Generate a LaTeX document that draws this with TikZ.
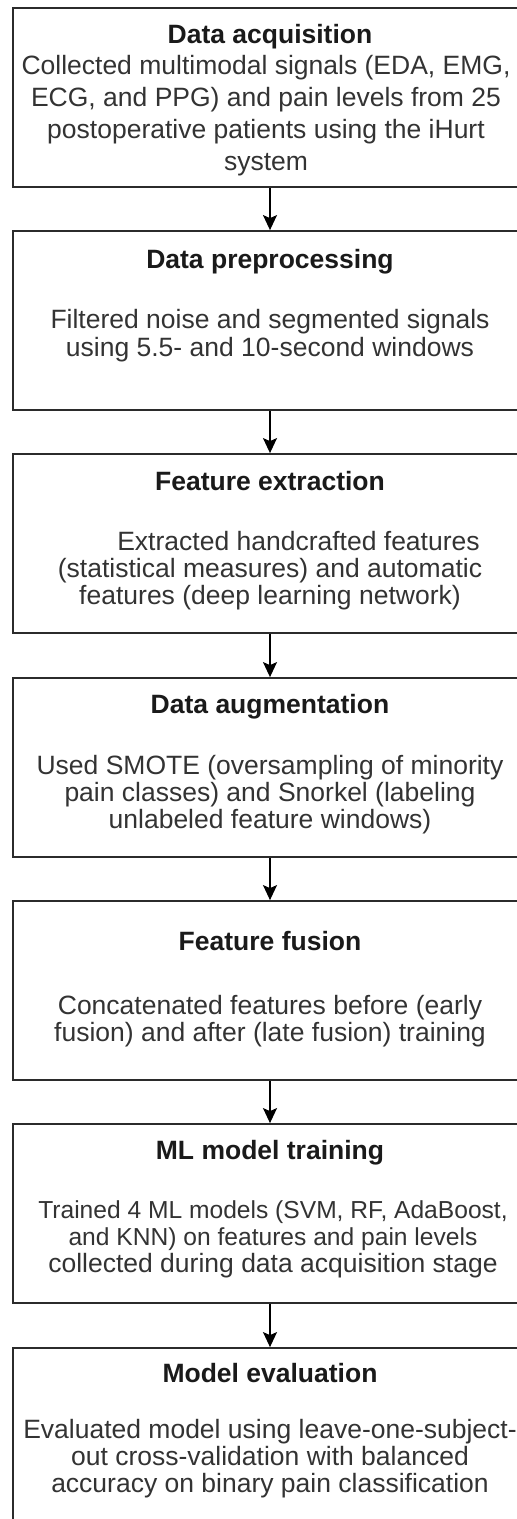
\documentclass[tikz,border=0pt]{standalone}
\usepackage{fontspec}
\setmainfont{Liberation Sans}
\usetikzlibrary{arrows.meta}
\definecolor{edge}{HTML}{2B2B2B}
\definecolor{bodytext}{HTML}{333333}
\definecolor{titletext}{HTML}{1A1A1A}
\newcommand{\stagefontsmall}{\fontsize{24.6pt}{27pt}\selectfont}
\newcommand{\stagefontnormal}{\fontsize{26.5pt}{27pt}\selectfont}
\tikzset{
  stagebox/.style={draw=edge, line width=1.8pt, minimum width=514pt, minimum height=179pt, inner sep=0pt},
  stagetitle/.style={anchor=base, inner sep=0pt, font=\fontsize{26.5pt}{27pt}\selectfont\bfseries, text=titletext},
  stagebody/.style={anchor=base, inner sep=0pt, align=center, font=\fontsize{26.5pt}{27pt}\selectfont, text=bodytext},
  flow/.style={draw=black, line width=1.6pt, -{Stealth[length=15pt, width=14pt, inset=3pt]}}
}
\begin{document}
\begin{tikzpicture}[x=1pt, y=-1pt]
\useasboundingbox (0,0) rectangle (517,1519);
\fill[white] (0,0) rectangle (517,1519);
% boxes
\node[stagebox] (b1) at (270,97.5) {};
\node[stagebox] (b2) at (270,320.5) {};
\node[stagebox] (b3) at (270,543.5) {};
\node[stagebox] (b4) at (270,767.5) {};
\node[stagebox] (b5) at (270,990.5) {};
\node[stagebox] (b6) at (270,1213.5) {};
\node[stagebox] (b7) at (270,1437.5) {};
% texts (body nodes are anchored at the baseline of their last line)
\node[stagetitle] (t1) at (270,43) {Data acquisition};
\node[stagebody, font=\fontsize{26.5pt}{31.7pt}\selectfont] (d1) at (266,170) {Collected multimodal signals (EDA, EMG,\\ECG, and PPG) and pain levels from 25\\postoperative patients using the iHurt\\system};
\node[stagetitle] (t2) at (270,268) {Data preprocessing};
\node[stagebody, font=\fontsize{26.5pt}{28pt}\selectfont] (d2) at (270,356) {Filtered noise and segmented signals\\using 5.5- and 10-second windows};
\node[stagetitle] (t3) at (270,490) {Feature extraction};
\node[stagebody] (d3) at (270,604) {\hspace*{57pt}Extracted handcrafted features\\(statistical measures) and automatic\\features (deep learning network)};
\node[stagetitle] (t4) at (270,713) {Data augmentation};
\node[stagebody] (d4) at (270,828) {Used SMOTE (oversampling of minority\\pain classes) and Snorkel (labeling\\unlabeled feature windows)};
\node[stagetitle] (t5) at (270,950) {Feature fusion};
\node[stagebody] (d5) at (270,1041) {Concatenated features before (early\\fusion) and after (late fusion) training};
\node[stagetitle] (t6) at (270,1159) {ML model training};
\node[stagebody] (d6) at (273,1272) {\stagefontsmall Trained 4 ML models (SVM, RF, AdaBoost,\\\stagefontsmall and KNN) on features and pain levels\\\stagefontnormal collected during data acquisition stage};
\node[stagetitle] (t7) at (270,1382) {Model evaluation};
\node[stagebody] (d7) at (270,1492) {Evaluated model using leave-one-subject-\\out cross-validation with balanced\\accuracy on binary pain classification};
% arrows
\draw[flow] (b1.south) -- (b2.north);
\draw[flow] (b2.south) -- (b3.north);
\draw[flow] (b3.south) -- (b4.north);
\draw[flow] (b4.south) -- (b5.north);
\draw[flow] (b5.south) -- (b6.north);
\draw[flow] (b6.south) -- (b7.north);
\end{tikzpicture}
\end{document}
